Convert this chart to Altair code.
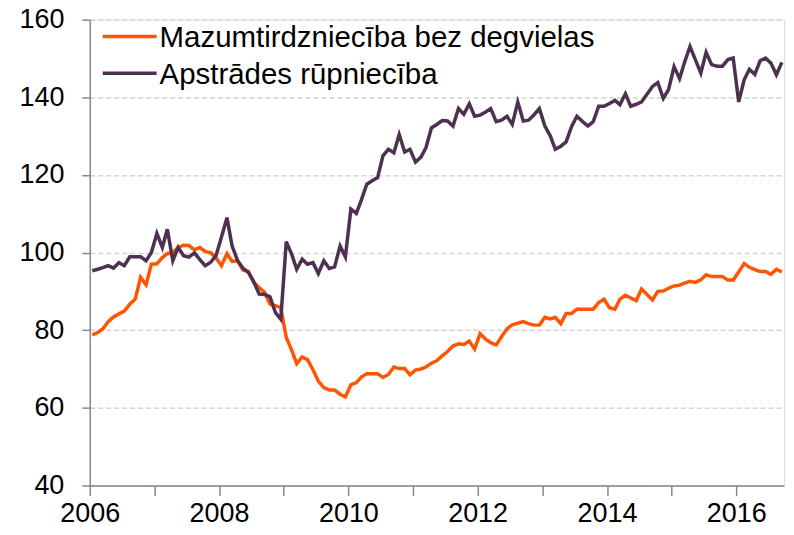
import altair as alt
import pandas as pd

SERIES = ["Mazumtirdzniecība bez degvielas", "Apstrādes rūpniecība"]
COLORS = ["#FF5500", "#4E3150"]

# monthly index values, Jan 2006 - Sep 2016
retail = [
    78.8, 79.4, 80.3, 82.2, 83.4, 84.2, 84.9, 86.7, 88.0, 93.6, 91.7, 97.0,
    97.1, 98.7, 99.7, 100.0, 101.3, 101.9, 101.8, 100.7, 101.3, 100.3, 99.9, 98.7,
    96.6, 99.7, 97.7, 97.9, 95.5, 95.1, 92.3, 91.0, 89.7, 86.7, 86.3, 85.8,
    78.1, 74.8, 71.4, 73.1, 72.4, 69.8, 66.9, 65.2, 64.6, 64.6, 63.5, 62.8,
    65.9, 66.5, 67.9, 68.8, 68.8, 68.8, 67.8, 68.6, 70.5, 70.1, 70.1, 68.5,
    69.7, 70.0, 70.5, 71.5, 72.1, 73.4, 74.5, 75.9, 76.5, 76.3, 77.2, 75.1,
    79.1, 77.7, 76.8, 76.2, 78.3, 80.3, 81.4, 81.8, 82.2, 81.7, 81.3, 81.3,
    83.3, 82.9, 83.3, 81.7, 84.3, 84.3, 85.4, 85.4, 85.4, 85.4, 87.1, 88.0,
    85.8, 85.4, 88.0, 89.0, 88.3, 87.6, 90.6, 89.2, 87.8, 90.0, 90.1, 90.8,
    91.4, 91.6, 92.1, 92.6, 92.3, 93.0, 94.3, 93.8, 93.8, 93.8, 92.9, 92.9,
    95.0, 97.2, 96.2, 95.6, 95.1, 95.1, 94.4, 95.7, 95.0,
]
manuf = [
    95.3, 95.7, 96.1, 96.6, 96.0, 97.4, 96.6, 98.9, 98.9, 98.9, 97.9, 100.0,
    104.9, 101.3, 106.0, 97.9, 101.3, 99.2, 98.8, 99.9, 98.2, 96.6, 97.5, 99.2,
    104.0, 109.0, 101.7, 97.9, 96.0, 94.9, 92.5, 89.3, 89.2, 88.6, 84.5, 82.8,
    102.8, 99.5, 95.7, 98.3, 97.0, 97.4, 94.6, 97.9, 95.9, 96.3, 101.7, 98.9,
    111.2, 110.1, 113.5, 117.6, 118.5, 119.3, 124.9, 126.6, 125.7, 130.4, 125.9, 126.6,
    123.3, 124.6, 127.0, 132.1, 133.0, 134.0, 133.9, 132.6, 137.1, 135.6, 138.3, 135.1,
    135.4, 136.2, 137.1, 133.7, 134.1, 135.1, 133.0, 138.8, 133.9, 134.1, 135.5, 137.1,
    132.6, 130.0, 126.6, 127.4, 128.5, 132.5, 135.1, 133.8, 132.6, 133.7, 137.7, 137.7,
    138.4, 139.2, 138.1, 140.9, 137.7, 138.2, 138.8, 140.8, 142.8, 143.8, 139.7, 142.0,
    147.9, 144.8, 149.0, 153.1, 149.7, 146.2, 151.6, 148.4, 148.0, 148.0, 149.7, 150.1,
    138.8, 144.5, 147.2, 145.9, 149.4, 150.1, 148.8, 145.8, 149.0,
]
Y_TICKS = [40, 60, 80, 100, 120, 140, 160]
YEARS = list(range(2006, 2017))

n = len(retail)
months = pd.date_range("2006-01-01", periods=n, freq="MS") + pd.Timedelta(days=14)
dates = [d.strftime("%Y-%m-%d") for d in months]

df = pd.DataFrame({
    "date": dates + dates,
    "value": retail + manuf,
    "series": [SERIES[0]] * n + [SERIES[1]] * n,
    "order": [0] * n + [1] * n,
})

FONT = "Liberation Sans"
AXIS_GRAY = "#888888"

x_enc = alt.X(
    "date:T",
    scale=alt.Scale(
        type="utc",
        domain=[alt.DateTime(year=2006, month=1, date=1, utc=True),
                alt.DateTime(year=2016, month=9, date=27, utc=True)],
    ),
    axis=alt.Axis(
        title=None,
        values=[alt.DateTime(year=y, month=1, date=1, utc=True) for y in YEARS],
        labelExpr="utcyear(datum.value) % 2 == 0 ? utcFormat(datum.value, '%Y') : ''",
        grid=False,
        tickSize=10,
        tickColor=AXIS_GRAY,
        tickWidth=1.5,
        domainColor=AXIS_GRAY,
        domainWidth=1.5,
        labelFontSize=27,
        labelFont=FONT,
        labelColor="#000000",
        labelPadding=5,
        labelFlush=False,
        labelOverlap=False,
    ),
)

y_enc = alt.Y(
    "value:Q",
    scale=alt.Scale(domain=[40, 160], nice=False, zero=False),
    axis=alt.Axis(
        title=None,
        values=Y_TICKS,
        grid=True,
        gridColor="#D4D4D4",
        gridDash=[5, 3],
        gridWidth=1.5,
        tickSize=8,
        tickColor=AXIS_GRAY,
        tickWidth=1.5,
        domainColor=AXIS_GRAY,
        domainWidth=1.5,
        labelFontSize=27,
        labelFont=FONT,
        labelColor="#000000",
        labelPadding=18,
        labelFlush=False,
    ),
)

lines = alt.Chart(df).mark_line(strokeWidth=3.5).encode(
    x=x_enc,
    y=y_enc,
    color=alt.Color("series:N", scale=alt.Scale(domain=SERIES, range=COLORS), legend=None),
    detail="series:N",
    order="order:Q",
)

layers = [lines]
for k, (name, col) in enumerate(zip(SERIES, COLORS)):
    ldf = pd.DataFrame({"s": [name]})
    layers.append(
        alt.Chart(ldf).mark_rule(strokeWidth=3.5, color=col).encode(
            x=alt.value(13), x2=alt.value(67), y=alt.value(17 + k * 36.7)
        )
    )
    layers.append(
        alt.Chart(ldf).mark_text(
            align="left", baseline="alphabetic", fontSize=29.5, font=FONT, color="#000000"
        ).encode(x=alt.value(70), y=alt.value(27.5 + k * 36.7), text="s:N")
    )

chart = alt.layer(*layers).properties(
    width=696,
    height=467,
    autosize=alt.AutoSizeParams(type="none"),
    padding={"left": 82, "top": 11, "right": 2, "bottom": 41},
).configure_view(stroke=None).configure(background="white")

chart.save("out.html", embed_options={"renderer": "svg", "actions": False})
